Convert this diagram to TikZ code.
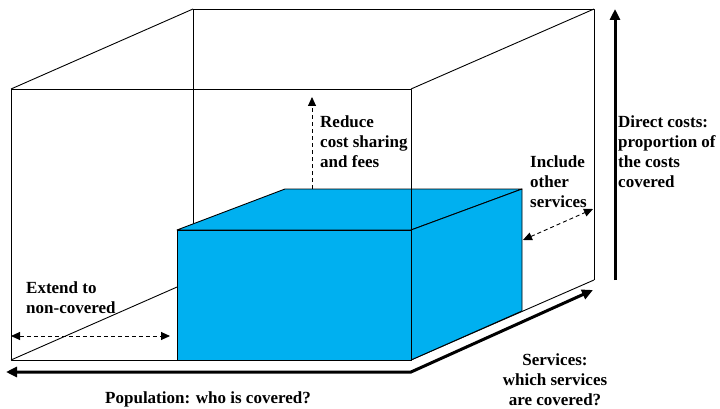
\documentclass[tikz,border=0pt]{standalone}
\usepackage{fontspec}
\setmainfont{Liberation Serif}
\usetikzlibrary{arrows.meta}
\definecolor{coverblue}{RGB}{0,176,240}
\begin{document}
\begin{tikzpicture}[x=1pt,y=-1pt,
  edge/.style={line width=0.9pt, line join=round},
  cube/.style={edge, fill=coverblue},
  bigtip/.tip={Triangle[length=11pt,width=10pt]},
  smalltip/.tip={Triangle[length=9pt,width=8pt]},
  axisline/.style={line width=3pt},
  hint/.style={line width=0.9pt, dash pattern=on 4pt off 3pt},
  txt/.style={inner sep=0pt, font=\fontsize{17}{20}\selectfont\bfseries, align=left},
]
\useasboundingbox (0,0) rectangle (720,409);

% corners of the outer frame
\coordinate (ftl) at (11,89);
\coordinate (ftr) at (411,89);
\coordinate (fbl) at (11,360);
\coordinate (fbr) at (411,360);
\coordinate (btl) at (193,9);
\coordinate (btr) at (594,9);
\coordinate (bbl) at (193,280);
\coordinate (bbr) at (594,280);

% corners of the covered block
\coordinate (cftl) at (177,230);
\coordinate (cftr) at (411,230);
\coordinate (cfbl) at (177,360);
\coordinate (cfbr) at (411,360);
\coordinate (cbtl) at (285,189);
\coordinate (cbtr) at (522,189);
\coordinate (cbbr) at (522,311);

% back and hidden edges of the frame
\draw[edge] (btl) -- (btr) -- (bbr);
\draw[edge] (btl) -- (bbl);
\draw[edge] (ftl) -- (btl);
\draw[edge] (ftr) -- (btr);
\draw[edge] (fbl) -- (bbl);
\draw[edge] (fbr) -- (bbr);

% the covered block
\draw[cube] (cftl) -- (cbtl) -- (cbtr) -- (cftr) -- cycle;
\draw[cube] (cftr) -- (cbtr) -- (cbbr) -- (cfbr) -- cycle;
\draw[cube] (cftl) -- (cftr) -- (cfbr) -- (cfbl) -- cycle;

% front face of the frame
\draw[edge] (fbl) -- (ftl) -- (ftr) -- (fbr) -- cycle;

% axes
\coordinate (popend) at (6,372);
\coordinate (axcorner) at (411,372);
\coordinate (servend) at (593,290);
\coordinate (costfoot) at (615,280);
\coordinate (costend) at (615,9);
\draw[axisline, {bigtip}-{bigtip}] (popend) -- (axcorner) -- (servend);
\draw[axisline, -{bigtip}] (costfoot) -- (costend);

% directions of extension
\coordinate (upfoot) at (312,189);
\coordinate (uptip) at (312,97);
\coordinate (popleft) at (11,336);
\coordinate (popright) at (170,336);
\coordinate (servleft) at (523,240);
\coordinate (servright) at (593,209);
\draw[hint, -{smalltip}] (upfoot) -- (uptip);
\draw[hint, {smalltip}-{smalltip}] (popleft) -- (popright);
\draw[hint, {smalltip}-{smalltip}] (servleft) -- (servright);

% labels
\node[txt, anchor=north west] (reduce) at (320,116) {Reduce\\cost sharing\\and fees};
\node[txt, anchor=north west] (include) at (530,156) {Include\\other\\services};
\node[txt, anchor=north west] (direct) at (618,116) {Direct costs:\\proportion of\\the costs\\covered};
\node[txt, anchor=north west] (extend) at (26,282) {Extend to\\non-covered};
\node[txt, anchor=base] (population) at (208,403) {Population: who is covered?};
\node[txt, align=center, anchor=north] (services) at (555,354) {Services:\\which services\\are covered?};
\end{tikzpicture}
\end{document}
